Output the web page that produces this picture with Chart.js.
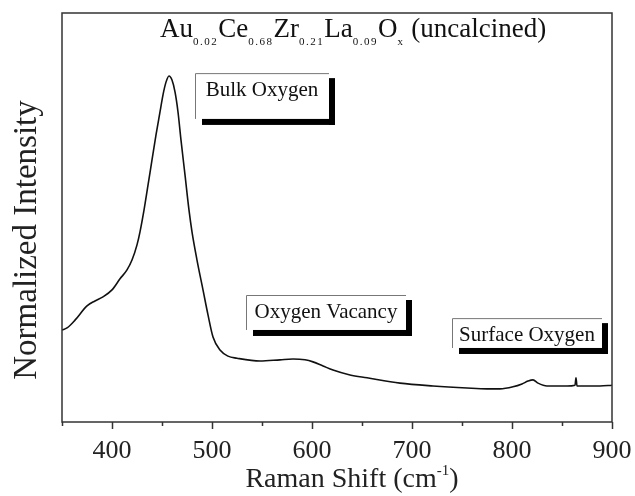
<!DOCTYPE html>
<html>
<head>
<meta charset="utf-8">
<script src="https://cdn.jsdelivr.net/npm/chart.js@4.4.1/dist/chart.umd.min.js"></script>
<style>
  html, body { margin: 0; padding: 0; background: #fff; }
</style>
</head>
<body>
<canvas id="chart1" width="635" height="496"></canvas>
<script>
// spectrum (cm-1 vs normalized intensity)
var ramanShift = [350, 355, 363, 375, 383, 391, 400, 408, 415, 420, 425, 428, 432, 436, 440, 444, 448, 451, 454, 457,
  460, 463, 466, 469, 473, 477, 480, 485, 491, 496, 501, 508, 516, 525, 548, 568, 581, 593, 601, 611,
  621, 638, 655, 688, 721, 755, 775, 788, 801, 810, 816, 821, 826, 835, 855, 863, 864, 865, 888, 900];
var intensity = [0.225, 0.230, 0.249, 0.284, 0.296, 0.306, 0.323, 0.350, 0.372, 0.396, 0.433, 0.465, 0.518, 0.579, 0.641, 0.702, 0.758, 0.800, 0.831, 0.846,
  0.836, 0.807, 0.758, 0.689, 0.604, 0.518, 0.465, 0.396, 0.323, 0.262, 0.208, 0.176, 0.161, 0.156, 0.149, 0.152, 0.154, 0.152, 0.147, 0.137,
  0.127, 0.115, 0.108, 0.095, 0.088, 0.083, 0.081, 0.081, 0.086, 0.093, 0.100, 0.103, 0.095, 0.088, 0.088, 0.090, 0.108, 0.088, 0.088, 0.090];
var majorTicks = [400, 500, 600, 700, 800, 900];
var minorTicks = [350, 450, 550, 650, 750, 850];

var titleParts = [['Au', 0], ['0.02', 1], ['Ce', 0], ['0.68', 1], ['Zr', 0], ['0.21', 1], ['La', 0], ['0.09', 1], ['O', 0], ['x', 1], [' (uncalcined)', 0]];
var xTitleParts = [['Raman Shift (cm', 0], ['-1', 2], [')', 0]];
var yTitle = 'Normalized Intensity';
var notes = [
  {text: 'Bulk Oxygen', x0: 483, x1: 617, y0: 0.853, y1: 0.741},
  {text: 'Oxygen Vacancy', x0: 534, x1: 694, y0: 0.3105, y1: 0.225},
  {text: 'Surface Oxygen', x0: 740, x1: 890, y0: 0.254, y1: 0.181}
];

var serif = '"Liberation Serif", "Times New Roman", serif';

// draws a run of text with sub (1) / super (2) scripts, returns the width
function richText(c, parts, x, base, size, small, measureOnly) {
  var start = x;
  parts.forEach(function (p) {
    if (p[1]) {
      c.font = small + 'px ' + serif;
      c.letterSpacing = p[1] === 1 ? '1.5px' : '0px';
      if (!measureOnly) c.fillText(p[0], x, p[1] === 1 ? base + 8 : base - 12);
    } else {
      c.font = size + 'px ' + serif;
      c.letterSpacing = '0px';
      if (!measureOnly) c.fillText(p[0], x, base);
    }
    x += c.measureText(p[0]).width;
  });
  c.letterSpacing = '0px';
  return x - start;
}

var decor = {
  id: 'decor',
  afterDraw: function (chart) {
    var c = chart.ctx, a = chart.chartArea;
    var xs = chart.scales.x, ys = chart.scales.y;
    c.save();
    // frame
    c.strokeStyle = '#333';
    c.lineWidth = 1.5;
    c.strokeRect(a.left, a.top, a.right - a.left, a.bottom - a.top);
    // ticks below the axis
    majorTicks.forEach(function (v) {
      var px = Math.round(xs.getPixelForValue(v)) + 0.5;
      c.beginPath(); c.moveTo(px, a.bottom); c.lineTo(px, a.bottom + 7); c.stroke();
    });
    minorTicks.forEach(function (v) {
      var px = Math.round(xs.getPixelForValue(v)) + 0.5;
      c.beginPath(); c.moveTo(px, a.bottom); c.lineTo(px, a.bottom + 4); c.stroke();
    });

    c.fillStyle = '#111';
    c.textBaseline = 'alphabetic';
    c.textAlign = 'left';
    // title with subscripts
    richText(c, titleParts, 160, 37, 27, 11, false);

    // axis titles
    c.fillStyle = '#222';
    var w = richText(c, xTitleParts, 0, 0, 28, 15, true);
    richText(c, xTitleParts, 352 - w / 2, 487, 28, 15, false);
    c.save();
    c.translate(36, 240);
    c.rotate(-Math.PI / 2);
    c.font = '33px ' + serif;
    c.textAlign = 'center';
    c.fillText(yTitle, 0, 0);
    c.restore();

    // labelled boxes with drop shadow
    notes.forEach(function (n) {
      var l = xs.getPixelForValue(n.x0), r = xs.getPixelForValue(n.x1);
      var t = ys.getPixelForValue(n.y0), b = ys.getPixelForValue(n.y1);
      c.fillStyle = '#000';
      c.fillRect(l + 7, b, r - l - 1, 6);
      c.fillRect(r, t + 5, 6, b - t + 1);
      c.strokeStyle = '#777';
      c.lineWidth = 1;
      c.beginPath();
      c.moveTo(l + 0.5, b); c.lineTo(l + 0.5, t + 0.5); c.lineTo(r, t + 0.5);
      c.stroke();
      c.fillStyle = '#111';
      c.font = '21px ' + serif;
      c.textAlign = 'center';
      c.fillText(n.text, (l + r) / 2, t + 23);
    });
    c.restore();
  }
};

var ctx = document.getElementById('chart1').getContext('2d');
var chart = new Chart(ctx, {
  type: 'line',
  data: {
    datasets: [{
      data: ramanShift.map(function (v, i) { return {x: v, y: intensity[i]}; }),
      borderColor: '#111',
      borderWidth: 1.6,
      pointRadius: 0,
      cubicInterpolationMode: 'monotone',
      fill: false
    }]
  },
  options: {
    responsive: false,
    animation: false,
    devicePixelRatio: 1,
    layout: {padding: {top: 13, right: 23, left: 0, bottom: 0}},
    plugins: {legend: {display: false}, tooltip: {enabled: false}},
    scales: {
      x: {
        type: 'linear', min: 350, max: 900,
        afterBuildTicks: function (s) { s.ticks = majorTicks.map(function (v) { return {value: v}; }); },
        afterFit: function (s) { s.height = 74; s.paddingLeft = 0; s.paddingRight = 0; },
        ticks: {font: {family: serif, size: 26}, color: '#222', maxRotation: 0, padding: 6},
        grid: {display: false},
        border: {display: false}
      },
      y: {
        min: 0, max: 1,
        afterFit: function (s) { s.width = 62; s.paddingTop = 0; s.paddingBottom = 0; },
        ticks: {display: false},
        grid: {display: false},
        border: {display: false}
      }
    }
  },
  plugins: [decor]
});
</script>
</body>
</html>
